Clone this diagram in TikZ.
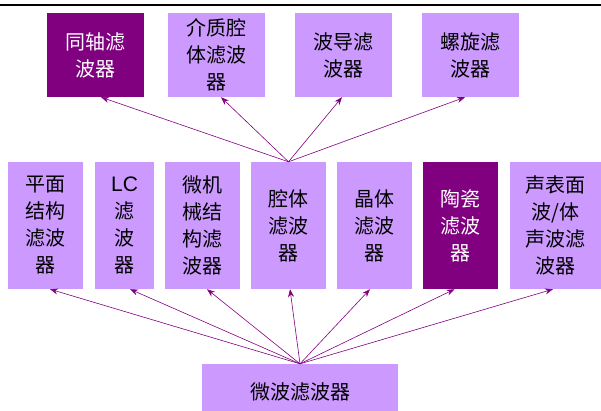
\documentclass[tikz,border=0pt]{standalone}
\usepackage{fontspec}
\setmainfont{Liberation Sans}
\newfontfamily\cjk{Noto Sans CJK SC}
\usetikzlibrary{arrows.meta}
\definecolor{lightp}{HTML}{CC99FF}
\definecolor{darkp}{HTML}{800080}
\begin{document}
\begin{tikzpicture}[x=1pt,y=-1pt,
  box/.style={fill=lightp, draw=none, inner sep=0pt, align=center,
    font=\fontsize{20}{27}\selectfont\cjk, text=black},
  dbox/.style={box, fill=darkp, text=white},
  topbox/.style={minimum width=97pt, minimum height=84pt},
  midbox/.style={minimum width=75pt, minimum height=127pt},
  arr/.style={draw=darkp, line width=0.6pt, -{Stealth[length=8pt,width=6pt]}}]
\useasboundingbox (0,0) rectangle (601,410);
\clip (0,0) rectangle (601,410);
\draw[line width=2.2pt] (0,5) -- (601,5);
% top row
\node[dbox, topbox] (t1) at (95.5,55) {同轴滤\\波器};
\node[box, topbox] (t2) at (216.5,55) {介质腔\\体滤波\\器};
\node[box, topbox] (t3) at (343.5,55) {波导滤\\波器};
\node[box, topbox] (t4) at (470,55) {螺旋滤\\波器};
% middle row
\node[box, midbox] (m1) at (45.5,225.5) {平面\\结构\\滤波\\器};
\node[box, midbox, minimum width=59pt] (m2) at (124.5,225.5) {{\rmfamily\fontsize{21}{27}\selectfont LC}\\滤\\波\\器};
\node[box, midbox] (m3) at (202.5,225.5) {微机\\械结\\构滤\\波器};
\node[box, midbox] (m4) at (288.5,225.5) {腔体\\滤波\\器};
\node[box, midbox] (m5) at (374.5,225.5) {晶体\\滤波\\器};
\node[dbox, midbox] (m6) at (460.5,225.5) {陶瓷\\滤波\\器};
\node[box, midbox, minimum width=91pt] (m7) at (555.5,225.5) {声表面\\波/体\\声波滤\\波器};
% bottom
\node[box, minimum width=196pt, minimum height=56pt] (b) at (300,392) {微波滤波器};
% connectors to top row
\draw[arr] (m4.north) -- ([xshift=5.5pt]t1.south);
\draw[arr] (m4.north) -- ([xshift=4.5pt]t2.south);
\draw[arr] (m4.north) -- ([xshift=-1.5pt]t3.south);
\draw[arr] (m4.north) -- ([xshift=-5pt]t4.south);
% connectors to middle row
\draw[arr] (b.north) -- ([xshift=4.5pt]m1.south);
\draw[arr] (b.north) -- ([xshift=5.5pt]m2.south);
\draw[arr] (b.north) -- ([xshift=4.5pt]m3.south);
\draw[arr] (b.north) -- ([xshift=1.5pt]m4.south);
\draw[arr] (b.north) -- ([xshift=-4.5pt]m5.south);
\draw[arr] (b.north) -- ([xshift=-6pt]m6.south);
\draw[arr] (b.north) -- ([xshift=-2.5pt]m7.south);
\end{tikzpicture}
\end{document}
